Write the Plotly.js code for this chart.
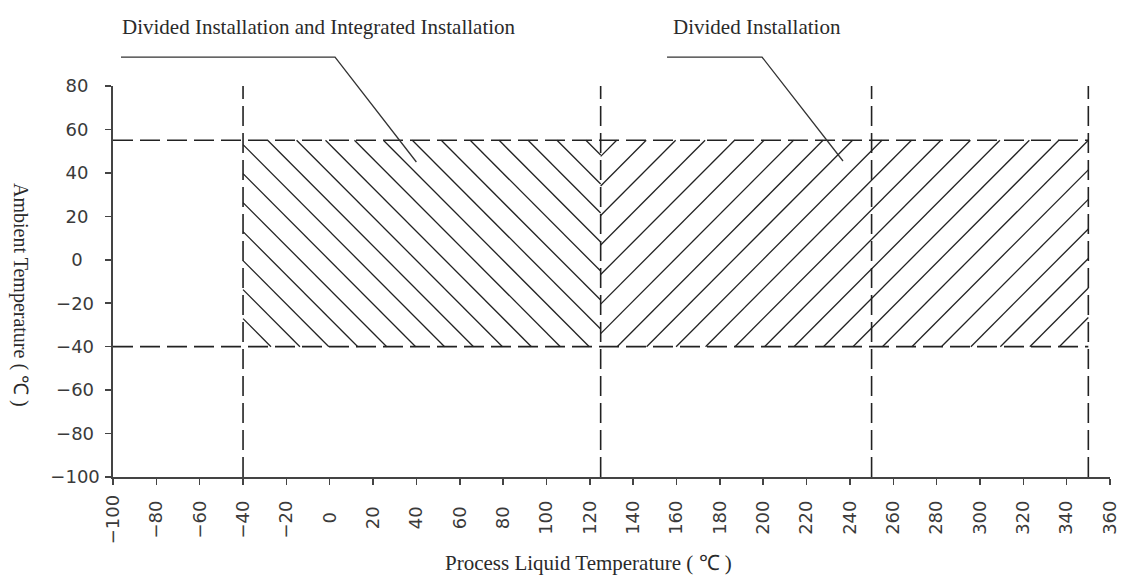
<!DOCTYPE html>
<html>
<head>
<meta charset="utf-8">
<script src="https://cdn.plot.ly/plotly-3.0.1.min.js"></script>
<style>
  html, body { margin: 0; padding: 0; background: #ffffff; }
  #chart { width: 1121px; height: 576px; }
</style>
</head>
<body>
<div id="chart"></div>
<script>
// ---------------- data ----------------
const xTickVals = [-100, -80, -60, -40, -20, 0, 20, 40, 60, 80, 100, 120, 140, 160, 180, 200, 220, 240, 260, 280, 300, 320, 340, 360];
const yTickVals = [-100, -80, -60, -40, -20, 0, 20, 40, 60, 80];
const xRange = [-100, 360];
const yRange = [-100, 80];

// boundaries of the operating ranges (dashed lines)
const processTempBoundaries = [-40, 125, 250, 350];
const ambientTempBoundaries = [55, -40];

// hatched zones
const zoneNames = ['Divided Installation and Integrated Installation', 'Divided Installation'];
const zoneProcessMin = [-40, 125];
const zoneProcessMax = [125, 350];
const zoneAmbientMin = [-40, -40];
const zoneAmbientMax = [55, 55];

const xAxisTitle = 'Process Liquid Temperature ( \u2103 )';
const yAxisTitle = 'Ambient Temperature ( \u2103 )';

// ---------------- styles ----------------
const INK = '#222222';
const TICK_FONT = { family: 'DejaVu Sans, Verdana, sans-serif', size: 18, color: '#3a3a3a' };
const SERIF_FONT = { family: 'Liberation Serif, Times New Roman, serif', size: 21, color: '#2a2a2a' };
const hatchStyle = [
  { dir: -1, phase: 13, step: 13.35 },
  { dir: 1, phase: -295, step: 13.6 }
];
const DASH = '20px,7px';

// label padding so rotated / left labels are centred like the reference
function emWidth(s) {
  let w = 0;
  for (const ch of s) w += (ch === '\u2212') ? 0.838 : 0.636;
  return w;
}
function makeLabels(vals) {
  const raw = vals.map(v => (v < 0 ? '\u2212' : '') + Math.abs(v));
  const maxW = Math.max(...raw.map(emWidth));
  return raw.map(s => {
    const n = Math.round((maxW - emWidth(s)) / 2 / 0.318);
    return s + '\u00A0'.repeat(n);
  });
}

// ---------------- traces ----------------
const traces = [];

function hatchLines(x0, x1, y0, y1, st) {
  const xs = [], ys = [];
  if (st.dir < 0) {
    // lines x + y = c
    const kmin = Math.ceil((x0 + y0 - st.phase) / st.step);
    const kmax = Math.floor((x1 + y1 - st.phase) / st.step);
    for (let k = kmin; k <= kmax; k++) {
      const c = st.phase + k * st.step;
      const xa = Math.max(x0, c - y1), xb = Math.min(x1, c - y0);
      if (xb - xa > 0.01) { xs.push(xa, xb, null); ys.push(c - xa, c - xb, null); }
    }
  } else {
    // lines y - x = c
    const kmin = Math.ceil((y0 - x1 - st.phase) / st.step);
    const kmax = Math.floor((y1 - x0 - st.phase) / st.step);
    for (let k = kmin; k <= kmax; k++) {
      const c = st.phase + k * st.step;
      const xa = Math.max(x0, y0 - c), xb = Math.min(x1, y1 - c);
      if (xb - xa > 0.01) { xs.push(xa, xb, null); ys.push(xa + c, xb + c, null); }
    }
  }
  return { xs, ys };
}

zoneNames.forEach((name, i) => {
  const h = hatchLines(zoneProcessMin[i], zoneProcessMax[i], zoneAmbientMin[i], zoneAmbientMax[i], hatchStyle[i]);
  traces.push({
    type: 'scatter', mode: 'lines', name: name, x: h.xs, y: h.ys,
    line: { color: INK, width: 1.3 }, hoverinfo: 'skip', showlegend: false
  });
});

// vertical dashed boundaries
processTempBoundaries.forEach(b => {
  traces.push({
    type: 'scatter', mode: 'lines', x: [b, b], y: yRange,
    line: { color: INK, width: 1.6, dash: DASH }, hoverinfo: 'skip', showlegend: false
  });
});
// horizontal dashed boundaries
ambientTempBoundaries.forEach(b => {
  traces.push({
    type: 'scatter', mode: 'lines', x: [xRange[0], processTempBoundaries[processTempBoundaries.length - 1]], y: [b, b],
    line: { color: INK, width: 1.6, dash: DASH }, hoverinfo: 'skip', showlegend: false
  });
});

// ---------------- layout ----------------
const leaderStyle = { color: '#333333', width: 1.3 };
const layout = {
  width: 1121, height: 576,
  margin: { l: 113, r: 11, t: 86, b: 99, pad: 0 },
  paper_bgcolor: '#ffffff', plot_bgcolor: '#ffffff',
  showlegend: false,
  xaxis: {
    range: xRange, tickmode: 'array', tickvals: xTickVals, ticktext: makeLabels(xTickVals),
    tickangle: -90, ticks: 'outside', ticklen: 6, tickwidth: 1.5, tickcolor: '#444',
    showline: true, linecolor: '#444', linewidth: 1.6, mirror: false,
    showgrid: false, zeroline: false, tickfont: TICK_FONT, ticklabelstandoff: 3, fixedrange: true
  },
  yaxis: {
    range: yRange, tickmode: 'array', tickvals: yTickVals, ticktext: makeLabels(yTickVals),
    ticks: 'outside', ticklen: 6, tickwidth: 1.5, tickcolor: '#444',
    showline: true, linecolor: '#444', linewidth: 1.6, mirror: false,
    showgrid: false, zeroline: false, tickfont: TICK_FONT, ticklabelstandoff: 2, fixedrange: true
  },
  shapes: [
    { type: 'path', xref: 'paper', yref: 'paper', path: 'M 0.008 1.074 L 0.2227 1.074 L 0.3043 0.8056', line: leaderStyle },
    { type: 'path', xref: 'paper', yref: 'paper', path: 'M 0.5557 1.074 L 0.651 1.074 L 0.7322 0.8082', line: leaderStyle }
  ],
  annotations: [
    { text: zoneNames[0], xref: 'paper', yref: 'paper', x: 0.2071, y: 1.151, xanchor: 'center', yanchor: 'middle', showarrow: false, font: SERIF_FONT },
    { text: zoneNames[1], xref: 'paper', yref: 'paper', x: 0.6464, y: 1.151, xanchor: 'center', yanchor: 'middle', showarrow: false, font: SERIF_FONT },
    { text: xAxisTitle, xref: 'paper', yref: 'paper', x: 0.477, y: -0.22, xanchor: 'center', yanchor: 'middle', showarrow: false, font: SERIF_FONT },
    { text: yAxisTitle, xref: 'paper', yref: 'paper', x: -0.0933, y: 0.4655, xanchor: 'center', yanchor: 'middle', textangle: 90, showarrow: false, font: Object.assign({}, SERIF_FONT, { size: 20 }) }
  ]
};

Plotly.newPlot('chart', traces, layout, { displayModeBar: false, staticPlot: true });
</script>
</body>
</html>
